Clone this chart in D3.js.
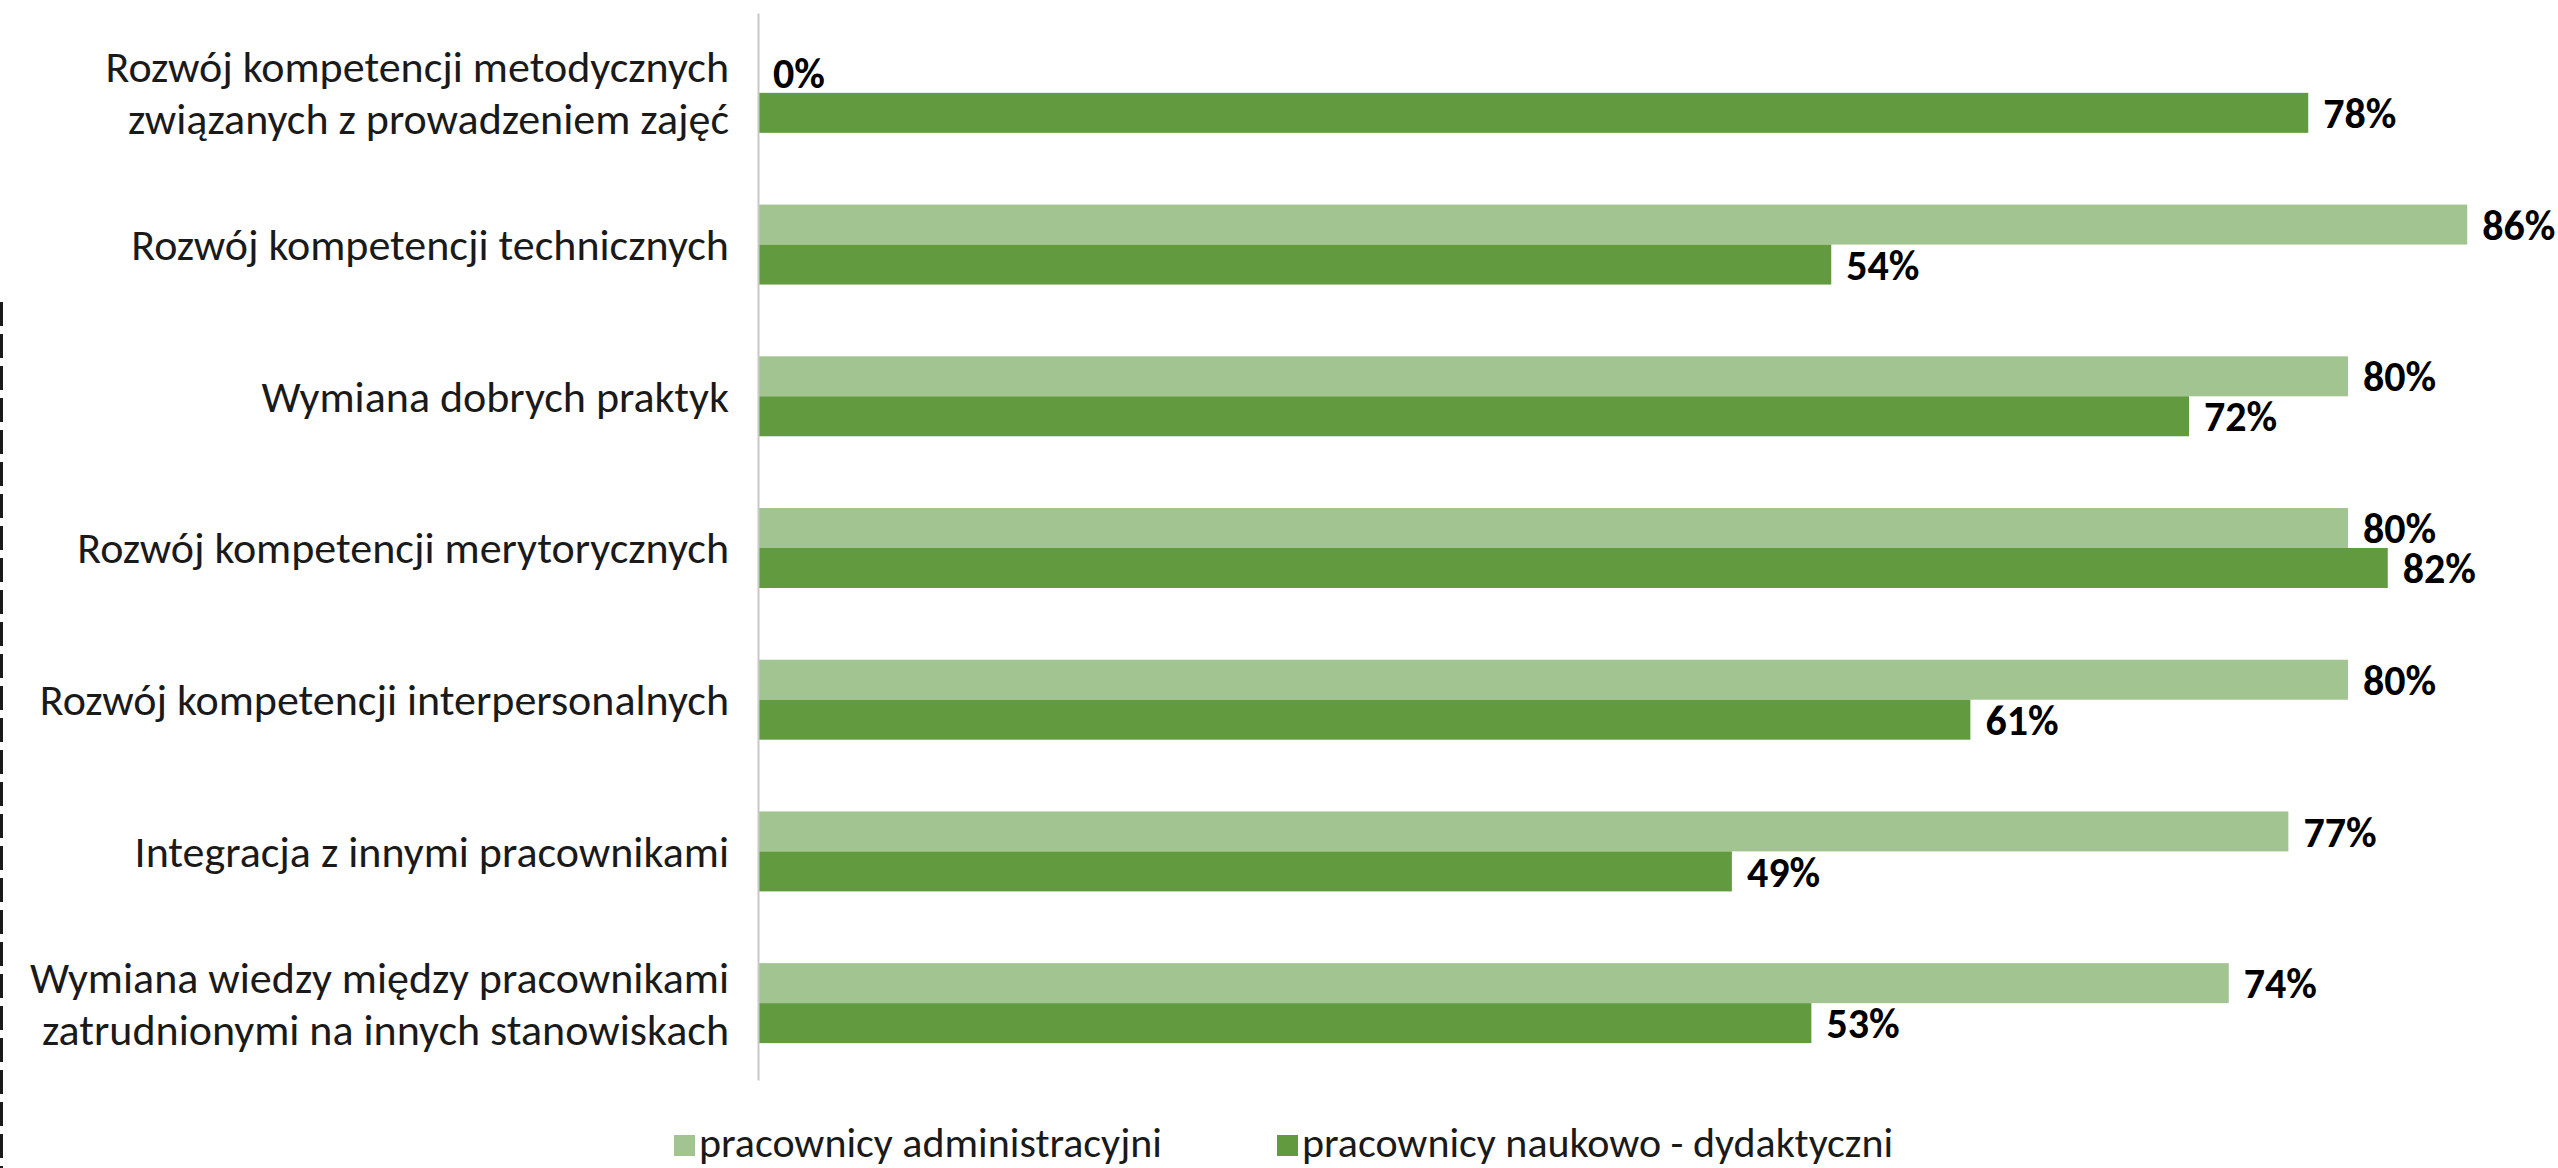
<!DOCTYPE html>
<html>
<head>
<meta charset="utf-8">
<script src="https://cdn.jsdelivr.net/npm/d3@7"></script>
<style>
  html, body { margin: 0; padding: 0; background: #fff; overflow: hidden; }
  svg { display: block; }
</style>
</head>
<body>
<svg id="chart" width="2558" height="1168"></svg>
<script>
const categories = [
  ["Rozwój kompetencji metodycznych", "związanych z prowadzeniem zajęć"],
  ["Rozwój kompetencji technicznych"],
  ["Wymiana dobrych praktyk"],
  ["Rozwój kompetencji merytorycznych"],
  ["Rozwój kompetencji interpersonalnych"],
  ["Integracja z innymi pracownikami"],
  ["Wymiana wiedzy między pracownikami", "zatrudnionymi na innych stanowiskach"]
];
const seriesNames = ["pracownicy administracyjni", "pracownicy naukowo - dydaktyczni"];
const adminValues = [0, 86, 80, 80, 80, 77, 74];
const naukValues  = [78, 54, 72, 82, 61, 49, 53];
const colors = ["#A1C490", "#619A3F"];

const FONT = "Carlito, Lato, 'Liberation Sans', sans-serif";
const svg = d3.select("#chart");
const W = 2558, H = 1168;

const axisX = 758;
const x = d3.scaleLinear().domain([0, 100]).range([axisX, axisX + 1987.5]);
const catIdx = d3.range(categories.length);
const y = d3.scaleBand().domain(catIdx).range([17, 1079]).paddingInner(0.473).paddingOuter(0.2365);
const ys = d3.scaleBand().domain([0, 1]).range([0, y.bandwidth()]);

// left dashed border
svg.append("line")
  .attr("x1", 1.5).attr("x2", 1.5).attr("y1", 302).attr("y2", H)
  .attr("stroke", "#1a1a1a").attr("stroke-width", 3)
  .attr("stroke-dasharray", "24,8");

const data = [];
catIdx.forEach(i => {
  data.push({ c: i, s: 0, v: adminValues[i] });
  data.push({ c: i, s: 1, v: naukValues[i] });
});

// bars
svg.append("g").selectAll("rect").data(data).join("rect")
  .attr("x", x(0))
  .attr("y", d => y(d.c) + ys(d.s))
  .attr("width", d => x(d.v) - x(0))
  .attr("height", ys.bandwidth())
  .attr("fill", d => colors[d.s]);

// value labels
svg.append("g").selectAll("text").data(data).join("text")
  .attr("x", d => x(d.v) + 15)
  .attr("y", d => y(d.c) + ys(d.s) + ys.bandwidth() / 2)
  .attr("dy", "0.36em")
  .attr("font-family", FONT)
  .attr("font-weight", "bold")
  .attr("font-size", 42)
  .attr("fill", "#000")
  .text(d => d.v + "%");

// axis line (category axis)
const yAxis = d3.axisLeft(d3.scaleLinear().range([13, 1080])).ticks(0).tickSize(0).tickFormat("");
const ag = svg.append("g").attr("transform", `translate(${axisX},0)`).call(yAxis);
ag.select(".domain").attr("stroke", "#C8C8C8").attr("stroke-width", 2);

// category labels
const lineH = 52;
const lg = svg.append("g");
catIdx.forEach(i => {
  const lines = categories[i];
  const cy = y(i) + y.bandwidth() / 2;
  const t = lg.append("text")
    .attr("text-anchor", "end")
    .attr("font-family", FONT)
    .attr("font-size", 44)
    .attr("fill", "#1a1a1a");
  lines.forEach((ln, k) => {
    t.append("tspan")
      .attr("x", axisX - 29)
      .attr("y", cy + (k - (lines.length - 1) / 2) * lineH)
      .attr("dy", "0.35em")
      .text(ln);
  });
});

// legend
const legendX = [674, 1277];
const leg = svg.append("g");
seriesNames.forEach((name, i) => {
  leg.append("rect")
    .attr("x", legendX[i]).attr("y", 1135)
    .attr("width", 21).attr("height", 21)
    .attr("fill", colors[i]);
  leg.append("text")
    .attr("x", legendX[i] + 25).attr("y", 1157)
    .attr("font-family", FONT)
    .attr("font-size", 42)
    .attr("fill", "#1a1a1a")
    .text(name);
});
</script>
</body>
</html>
